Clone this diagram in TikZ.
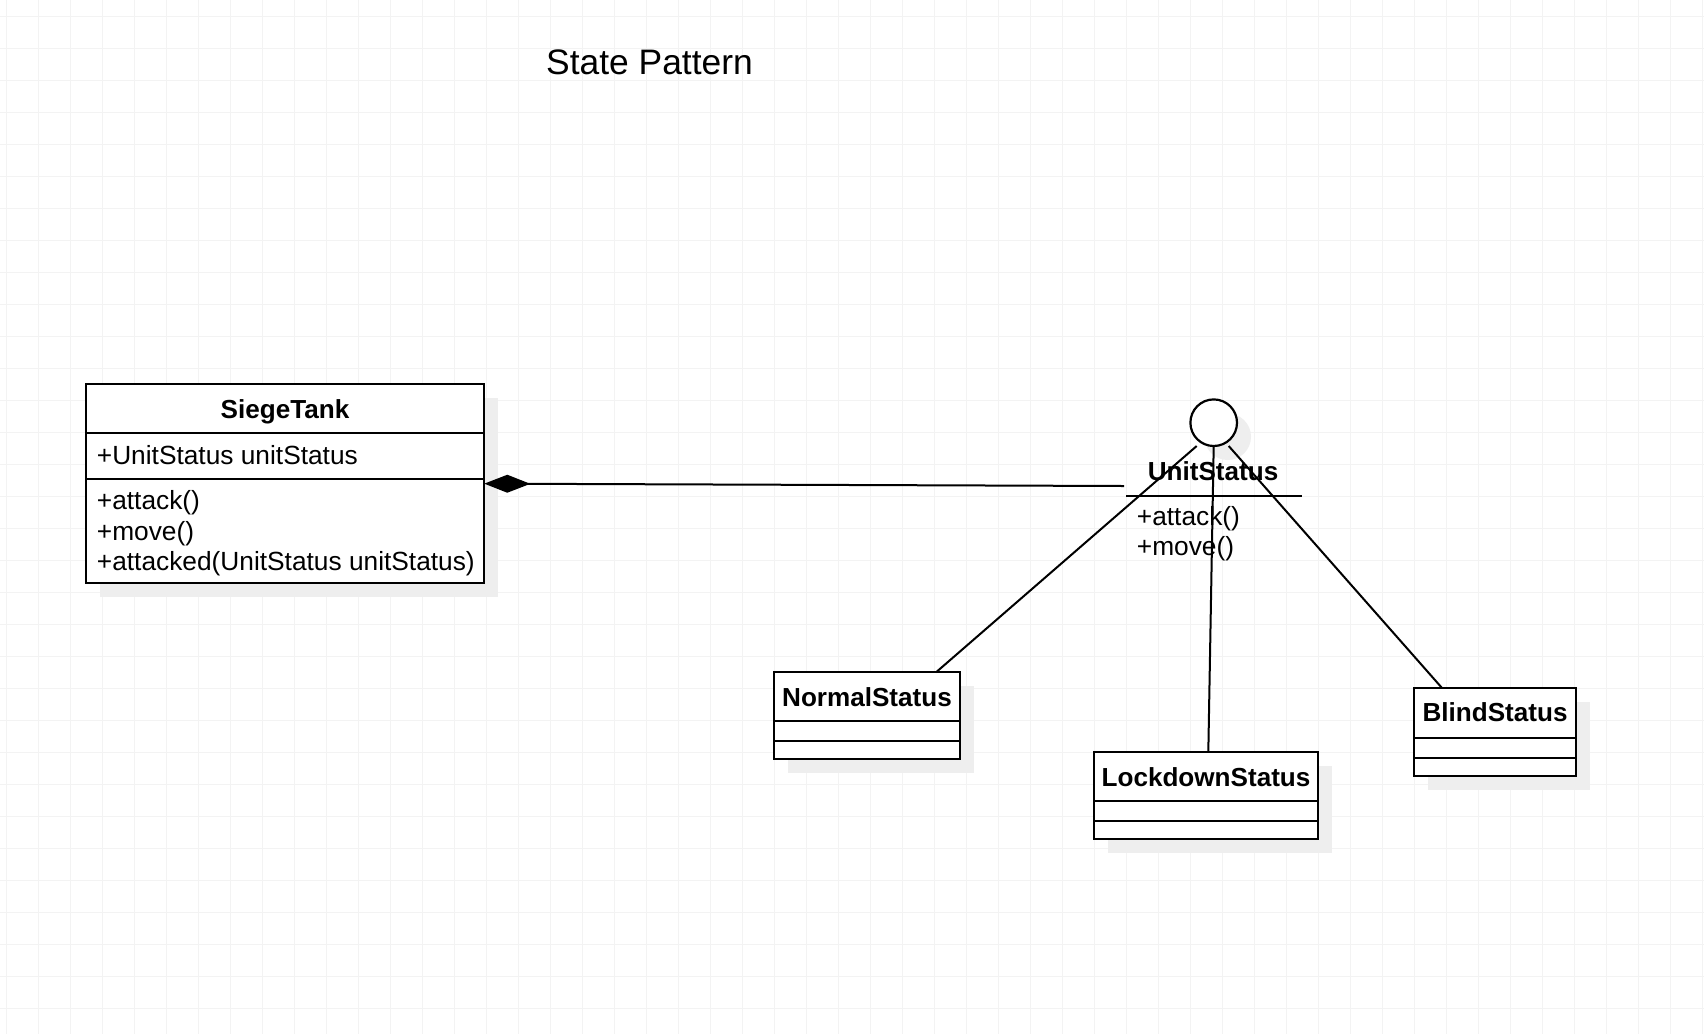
\documentclass[tikz,border=0pt]{standalone}
\usepackage{fontspec}
\setmainfont{Liberation Sans}
\usetikzlibrary{arrows.meta,shadows}
\definecolor{gridc}{HTML}{F3F3F3}
\definecolor{shadowc}{HTML}{EEEEEE}
\begin{document}
\begin{tikzpicture}[x=1pt,y=-1pt,
  umlbox/.style={draw, line width=2.2pt, fill=white, rectangle, inner sep=0pt, outer sep=0pt, anchor=north west,
    drop shadow={shadow xshift=14pt, shadow yshift=-14pt, fill=shadowc, opacity=1}},
  ifcircle/.style={draw, circle, line width=2.2pt, fill=white, inner sep=0pt, outer sep=0pt, minimum size=46.6pt,
    drop shadow={shadow xshift=14pt, shadow yshift=-14pt, fill=shadowc, opacity=1}},
  txt/.style={font=\fontsize{26.3}{30.5}\selectfont, inner sep=0pt, anchor=base west},
  boldtxt/.style={font=\fontsize{26.1}{30.5}\selectfont\bfseries, inner sep=0pt, anchor=base},
  divider/.style={line width=2.2pt},
  conn/.style={line width=2pt},
  comp/.style={line width=2pt, {Diamond[length=46pt,width=18pt]}-}]
\useasboundingbox (0,0) rectangle (1704,1034);
\fill[white] (0,0) rectangle (1704,1034);
\foreach \gx in {6,38,...,1704} {\draw[gridc, line width=1pt] (\gx,0) -- (\gx,1034);}
\foreach \gy in {16,48,...,1034} {\draw[gridc, line width=1pt] (0,\gy) -- (1704,\gy);}

% title
\node[font=\fontsize{35.4}{40}\selectfont, inner sep=0pt, anchor=base west] (title) at (546,74.3) {State Pattern};

% SiegeTank
\node[umlbox, minimum width=398.6pt, minimum height=199.3pt] (siege) at (85.7,384) {};
\draw[divider] (85.7,433.3) -- (484.3,433.3);
\draw[divider] (85.7,479.3) -- (484.3,479.3);
\node[boldtxt] (siegeName) at (285,418.3) {SiegeTank};
\node[txt] (siegeAttr) at (96.7,464.3) {+UnitStatus unitStatus};
\node[txt] (siegeM1) at (96.7,509.5) {+attack()};
\node[txt] (siegeM2) at (96.7,540) {+move()};
\node[txt] (siegeM3) at (96.7,570.5) {+attacked(UnitStatus unitStatus)};

% UnitStatus interface
\node[ifcircle] (ust) at (1213.7,422.7) {};
\node[boldtxt] (ustName) at (1213,480) {UnitStatus};
\draw[divider] (1126,495.7) -- (1301.7,495.7);
\node[txt] (ustM1) at (1136.7,525.7) {+attack()};
\node[txt] (ustM2) at (1136.7,555) {+move()};
\coordinate (ustEnd) at (1124,486);

% concrete states
\node[umlbox, minimum width=186pt, minimum height=87pt] (normal) at (774,672.3) {};
\draw[divider] (774,721.3) -- (960,721.3);
\draw[divider] (774,741.3) -- (960,741.3);
\node[boldtxt] (normalName) at (867,706) {NormalStatus};

\node[umlbox, minimum width=224pt, minimum height=87pt] (lock) at (1094,752.3) {};
\draw[divider] (1094,801.3) -- (1318,801.3);
\draw[divider] (1094,821.3) -- (1318,821.3);
\node[boldtxt] (lockName) at (1206,786) {LockdownStatus};

\node[umlbox, minimum width=162pt, minimum height=88pt] (blind) at (1414,688) {};
\draw[divider] (1414,738) -- (1576,738);
\draw[divider] (1414,758) -- (1576,758);
\node[boldtxt] (blindName) at (1495,721.7) {BlindStatus};

% connectors
\draw[comp] (siege.east) -- (ustEnd);
\draw[conn] ([xshift=-17pt]ust.south) -- ([xshift=69pt]normal.north);
\draw[conn] (ust.south) -- ([xshift=2.3pt]lock.north);
\draw[conn] ([xshift=15pt]ust.south) -- ([xshift=-53pt]blind.north);
\end{tikzpicture}
\end{document}
